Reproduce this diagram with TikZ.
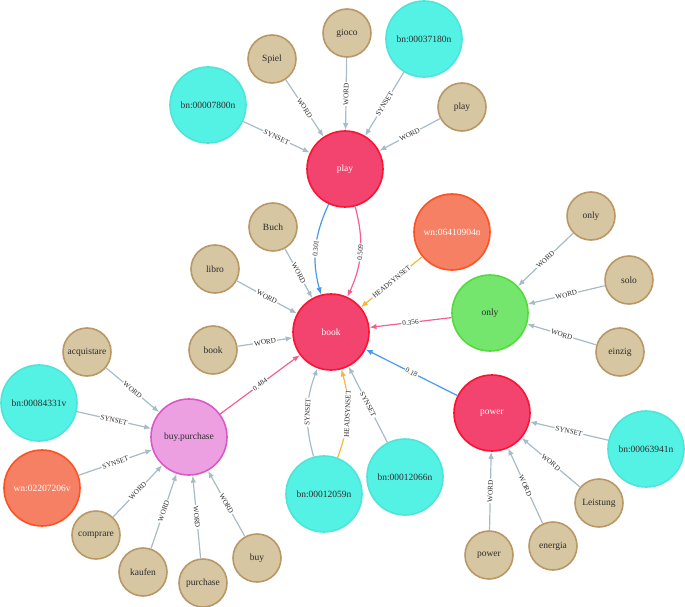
\documentclass[tikz,border=0pt]{standalone}
\usepackage{fontspec}
\setmainfont{Liberation Serif}
\usetikzlibrary{arrows.meta}
\definecolor{tanfill}{RGB}{214,198,162}
\definecolor{tanline}{RGB}{186,152,102}
\definecolor{cyanfill}{RGB}{84,242,228}
\definecolor{cyanline}{RGB}{78,228,216}
\definecolor{redfill}{RGB}{242,68,110}
\definecolor{redline}{RGB}{250,20,50}
\definecolor{orfill}{RGB}{245,128,100}
\definecolor{orline}{RGB}{252,82,36}
\definecolor{grfill}{RGB}{116,230,110}
\definecolor{grline}{RGB}{84,218,62}
\definecolor{vifill}{RGB}{236,160,226}
\definecolor{viline}{RGB}{218,88,200}
\definecolor{relgray}{RGB}{168,188,198}
\definecolor{relblue}{RGB}{72,152,238}
\definecolor{relpink}{RGB}{240,98,140}
\definecolor{relorange}{RGB}{250,180,56}
\definecolor{txtdark}{RGB}{45,45,45}
\tikzset{
  base/.style={circle, draw, line width=1.6pt, inner sep=0pt, text=txtdark,
    font=\fontsize{9.5}{10}\selectfont},
  wordnode/.style={base, fill=tanfill, draw=tanline, minimum size=48pt},
  synnode/.style={base, fill=cyanfill, draw=cyanline, minimum size=76pt},
  wnnode/.style={base, fill=orfill, draw=orline, minimum size=76pt, text=white},
  hubnode/.style={base, fill=redfill, draw=redline, minimum size=76pt, text=white},
  onlynode/.style={base, fill=grfill, draw=grline, minimum size=76pt},
  buynode/.style={base, fill=vifill, draw=viline, minimum size=76pt},
  rel/.style={-{Latex[length=7pt, width=5.5pt]}, line width=1.2pt, draw=relgray},
  lbl/.style={midway, sloped, fill=white, inner sep=1pt, text=txtdark,
    font=\fontsize{7.2}{7.2}\selectfont},
}
\begin{document}
\begin{tikzpicture}[x=1pt, y=-1pt]
  \useasboundingbox (0, 0) rectangle (685, 607);
  % hubs
  \node (play) at (345, 169) [hubnode] {play};
  \node (book) at (331, 332) [hubnode] {book};
  \node (power) at (492, 413) [hubnode] {power};
  \node (only) at (490, 313) [onlynode] {only};
  \node (buy) at (189, 437) [buynode] {buy.purchase};
  % around play
  \node (spiel) at (272, 59) [wordnode] {Spiel};
  \node (gioco) at (347, 33) [wordnode] {gioco};
  \node (bnA) at (424, 39) [synnode] {bn:00037180n};
  \node (bnB) at (208, 105) [synnode] {bn:00007800n};
  \node (wplay) at (462, 107) [wordnode] {play};
  % around book
  \node (buch) at (273, 227) [wordnode] {Buch};
  \node (libro) at (215, 269) [wordnode] {libro};
  \node (wbook) at (213, 350) [wordnode] {book};
  \node (wnA) at (452, 232) [wnnode] {wn:06410904n};
  \node (bnC) at (324, 494) [synnode] {bn:00012059n};
  \node (bnD) at (405, 477) [synnode] {bn:00012066n};
  % around only
  \node (wonly) at (591, 216) [wordnode] {only};
  \node (solo) at (629, 280) [wordnode] {solo};
  \node (einzig) at (620, 352) [wordnode] {einzig};
  % around power
  \node (bnE) at (646, 449) [synnode] {bn:00063941n};
  \node (leist) at (599, 503) [wordnode] {Leistung};
  \node (energia) at (553, 546) [wordnode] {energia};
  \node (wpower) at (489, 555) [wordnode] {power};
  % around buy.purchase
  \node (acq) at (87, 352) [wordnode] {acquistare};
  \node (bnF) at (39, 403) [synnode] {bn:00084331v};
  \node (wnB) at (42, 488) [wnnode] {wn:02207206v};
  \node (compr) at (96, 535) [wordnode] {comprare};
  \node (kaufen) at (143, 572) [wordnode] {kaufen};
  \node (purch) at (203, 583) [wordnode] {purchase};
  \node (wbuy) at (257, 558) [wordnode] {buy};
  % relations
  \draw[rel] (spiel) -- (play) node[lbl] {WORD};
  \draw[rel] (gioco) -- (play) node[lbl] {WORD};
  \draw[rel] (bnA) -- (play) node[lbl] {SYNSET};
  \draw[rel] (bnB) -- (play) node[lbl] {SYNSET};
  \draw[rel] (wplay) -- (play) node[lbl] {WORD};
  \draw[rel, draw=relblue] (play) to[bend right=20] node[lbl] {0.301} (book);
  \draw[rel, draw=relpink] (play) to[bend left=20] node[lbl] {0.509} (book);
  \draw[rel] (buch) -- (book) node[lbl] {WORD};
  \draw[rel] (libro) -- (book) node[lbl] {WORD};
  \draw[rel] (wbook) -- (book) node[lbl] {WORD};
  \draw[rel, draw=relorange] (wnA) -- (book) node[lbl] {HEADSYNSET};
  \draw[rel, draw=relpink] (only) -- (book) node[lbl] {0.356};
  \draw[rel, draw=relblue] (power) -- (book) node[lbl] {0.18};
  \draw[rel, draw=relpink] (buy) -- (book) node[lbl] {0.484};
  \draw[rel] (bnC) to[bend left=18] node[lbl] {SYNSET} (book);
  \draw[rel, draw=relorange] (bnC) to[bend right=18] node[lbl] {HEADSYNSET} (book);
  \draw[rel] (bnD) -- (book) node[lbl] {SYNSET};
  \draw[rel] (wonly) -- (only) node[lbl] {WORD};
  \draw[rel] (solo) -- (only) node[lbl] {WORD};
  \draw[rel] (einzig) -- (only) node[lbl] {WORD};
  \draw[rel] (bnE) -- (power) node[lbl] {SYNSET};
  \draw[rel] (leist) -- (power) node[lbl] {WORD};
  \draw[rel] (energia) -- (power) node[lbl] {WORD};
  \draw[rel] (wpower) -- (power) node[lbl] {WORD};
  \draw[rel] (acq) -- (buy) node[lbl] {WORD};
  \draw[rel] (bnF) -- (buy) node[lbl] {SYNSET};
  \draw[rel] (wnB) -- (buy) node[lbl] {SYNSET};
  \draw[rel] (compr) -- (buy) node[lbl] {WORD};
  \draw[rel] (kaufen) -- (buy) node[lbl] {WORD};
  \draw[rel] (purch) -- (buy) node[lbl] {WORD};
  \draw[rel] (wbuy) -- (buy) node[lbl] {WORD};
\end{tikzpicture}
\end{document}
